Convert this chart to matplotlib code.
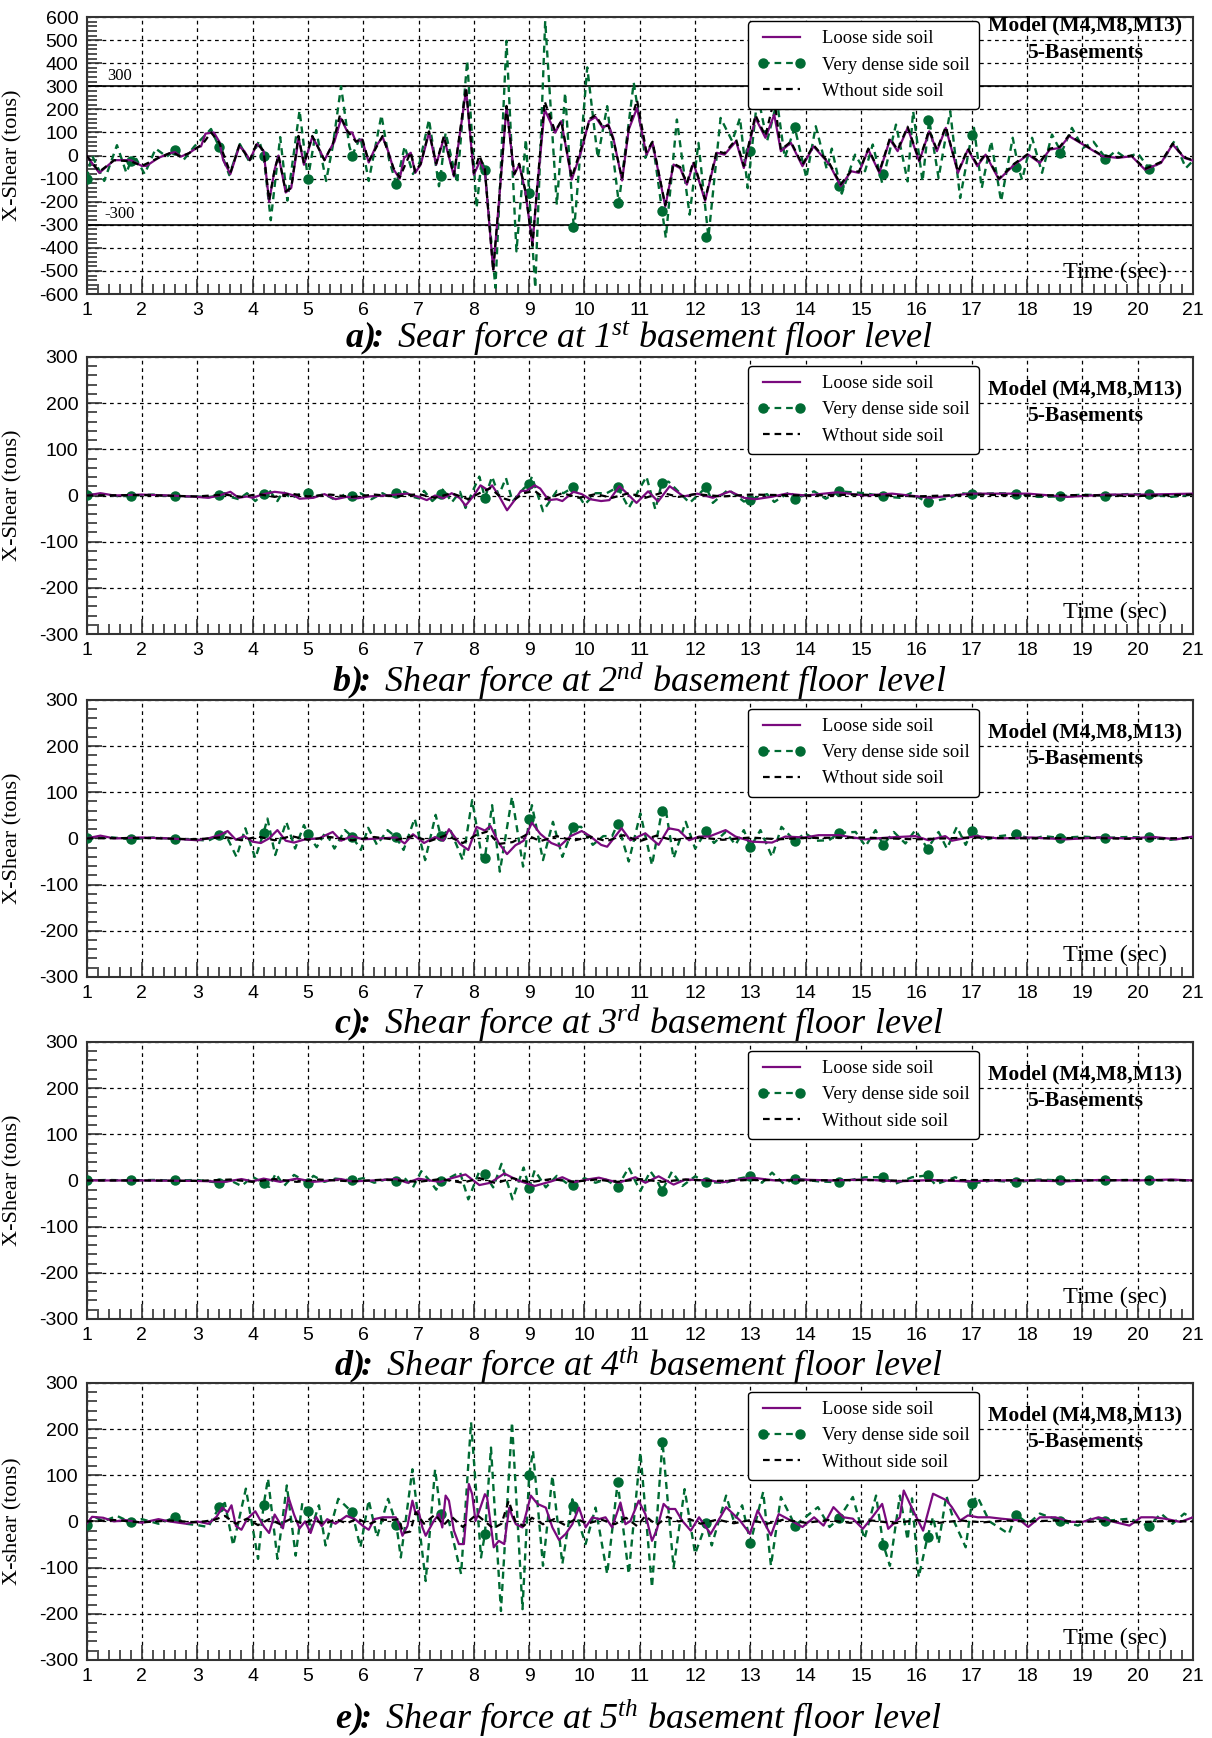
import numpy as np
import matplotlib
matplotlib.use('Agg')
import matplotlib.pyplot as plt
from matplotlib.lines import Line2D
from matplotlib.ticker import MultipleLocator

plt.rcParams['axes.unicode_minus'] = False
plt.rcParams['mathtext.fontset'] = 'custom'
plt.rcParams['mathtext.rm'] = 'Liberation Serif:italic'
plt.rcParams['mathtext.it'] = 'Liberation Serif:italic'
plt.rcParams['mathtext.bf'] = 'Liberation Serif:bold:italic'

PURPLE = '#7a0a7e'
GREEN = '#006b33'

# times of the circle markers on the "very dense" curve
mark_t = [1.0, 1.8, 2.6, 3.4, 4.2, 5.0, 5.8, 6.6, 7.4, 8.2, 9.0, 9.8, 10.6,
          11.4, 12.2, 13.0, 13.8, 14.6, 15.4, 16.2, 17.0, 17.8, 18.6, 19.4, 20.2]

# ---------------- a) 1st basement ----------------
a_loose = [(1.0, 0), (1.23, -75), (1.5, -20), (1.8, -20), (2.0, -45), (2.08, -45), (2.3, -10), (2.5, 10),
           (2.6, 15), (2.7, -5), (2.85, 10), (3.0, 35), (3.07, 40), (3.15, 95), (3.3, 100), (3.4, 60),
           (3.47, -20), (3.6, -80), (3.76, 40), (3.85, 20), (3.95, -20), (4.08, 50), (4.2, 20), (4.3, -200),
           (4.4, -60), (4.47, 0), (4.6, -160), (4.7, -140), (4.8, 20), (4.83, 80), (4.93, -40), (5.08, 80),
           (5.18, 40), (5.3, -20), (5.43, 40), (5.48, 60), (5.6, 160), (5.72, 100), (5.8, 100), (5.87, 60),
           (5.98, 70), (6.1, -30), (6.23, 40), (6.35, 80), (6.45, 20), (6.55, -60), (6.66, -100), (6.74, -10),
           (6.86, 12), (6.94, -75), (7.04, -39), (7.19, 99), (7.32, -39), (7.46, 77), (7.64, -90), (7.86, 284),
           (8.0, -83), (8.11, -25), (8.2, -68), (8.35, -495), (8.46, -184), (8.59, 210), (8.73, -83),
           (8.82, -39), (8.93, -155), (9.06, -387), (9.15, -126), (9.28, 200), (9.47, 99), (9.58, 149),
           (9.77, -104), (9.95, 26), (10.08, 149), (10.2, 167), (10.33, 120), (10.43, 135), (10.52, 77),
           (10.68, -108), (10.8, 113), (10.95, 206), (11.12, 4), (11.23, 55), (11.46, -220), (11.61, -39),
           (11.73, -55), (11.85, -126), (11.97, -32), (12.18, -196), (12.39, 12), (12.53, 4), (12.74, 62),
           (12.88, -54), (13.09, 163), (13.27, 77), (13.43, 177), (13.55, 19), (13.73, 55), (13.94, -46),
           (14.14, 40), (14.43, -39), (14.63, -133), (14.82, -68), (14.96, -75), (15.13, 26), (15.33, -75),
           (15.52, 69), (15.66, 19), (15.84, 120), (16.05, -25), (16.23, 105), (16.37, 19), (16.53, 120),
           (16.75, -75), (16.93, 26), (17.1, -46), (17.25, 4), (17.49, -104), (17.77, -39), (18.02, 4),
           (18.23, -32), (18.41, 26), (18.59, 33), (18.76, 84), (19.01, 48), (19.36, -3), (19.64, -10),
           (19.89, -3), (20.13, -61), (20.42, -32), (20.63, 48), (20.84, -10), (21.0, -22)]
a_without = [(1.0, 0), (1.23, -70), (1.5, -20), (1.8, -25), (2.0, -45), (2.3, -10), (2.55, 15), (2.7, -5),
             (2.85, 10), (3.1, 50), (3.25, 100), (3.4, 55), (3.6, -75), (3.76, 45), (3.95, -20), (4.08, 55),
             (4.2, 20), (4.3, -195), (4.4, -60), (4.47, 0), (4.6, -155), (4.7, -140), (4.83, 85), (4.93, -35),
             (5.08, 85), (5.3, -20), (5.45, 50), (5.58, 175), (5.72, 105), (5.87, 60), (5.98, 75), (6.1, -25),
             (6.35, 85), (6.55, -55), (6.66, -95), (6.86, 15), (6.94, -70), (7.04, -35), (7.19, 105),
             (7.32, -35), (7.46, 85), (7.64, -85), (7.86, 295), (8.0, -75), (8.1, 0), (8.2, -60), (8.35, -500),
             (8.46, -180), (8.59, 215), (8.73, -80), (8.82, -35), (8.93, -150), (9.06, -390), (9.15, -120),
             (9.28, 235), (9.47, 105), (9.58, 150), (9.77, -95), (9.95, 40), (10.1, 160), (10.2, 175),
             (10.33, 125), (10.43, 130), (10.52, 70), (10.68, -100), (10.8, 120), (10.95, 240), (11.12, 15),
             (11.23, 60), (11.46, -215), (11.61, -35), (11.73, -50), (11.85, -120), (11.97, -25), (12.18, -190),
             (12.39, 20), (12.53, 10), (12.74, 70), (12.88, -45), (13.09, 175), (13.27, 85), (13.43, 245),
             (13.55, 25), (13.73, 60), (13.94, -40), (14.14, 45), (14.43, -35), (14.63, -125), (14.82, -65),
             (14.96, -70), (15.13, 30), (15.33, -70), (15.52, 75), (15.66, 25), (15.84, 125), (16.05, -20),
             (16.23, 110), (16.37, 25), (16.53, 125), (16.75, -70), (16.93, 30), (17.1, -40), (17.25, 8),
             (17.49, -100), (17.77, -35), (18.02, 8), (18.23, -28), (18.41, 30), (18.59, 38), (18.76, 88),
             (19.01, 50), (19.36, 0), (19.64, -8), (19.89, 0), (20.13, -58), (20.42, -28), (20.63, 52),
             (20.84, -8), (21.0, -20)]
a_dense = [(1.0, -100), (1.1, 0), (1.32, -110), (1.55, 45), (1.72, -75), (1.8, -25), (1.9, -15), (2.05, -80),
           (2.25, 30), (2.45, -5), (2.6, 25), (2.75, -20), (2.95, 40), (3.25, 115), (3.4, 35), (3.58, -85),
           (3.77, 50), (3.95, -30), (4.12, 65), (4.2, 0), (4.33, -280), (4.5, 80), (4.63, -195), (4.85, 195),
           (5.0, -100), (5.15, 110), (5.33, -110), (5.45, 40), (5.6, 300), (5.75, 40), (5.8, 0), (5.95, 80),
           (6.1, -110), (6.33, 175), (6.47, -20), (6.6, -125), (6.75, 40), (6.9, -80), (7.02, -30), (7.19, 156),
           (7.37, -133), (7.4, -87), (7.49, 99), (7.7, -119), (7.88, 411), (8.05, -227), (8.14, -20),
           (8.2, -61), (8.39, -573), (8.59, 497), (8.77, -415), (8.94, 70), (9.0, -163), (9.11, -573),
           (9.29, 583), (9.5, -213), (9.65, 272), (9.81, -328), (10.05, 382), (10.24, -10), (10.41, 214),
           (10.62, -206), (10.89, 316), (11.1, -10), (11.23, 62), (11.47, -357), (11.67, 156), (11.9, -256),
           (12.06, 55), (12.24, -354), (12.46, 163), (12.67, 62), (12.81, 163), (12.95, -141), (13.13, 264),
           (13.3, 62), (13.48, 235), (13.62, -10), (13.8, 122), (14.01, -97), (14.18, 127), (14.38, -60),
           (14.47, 30), (14.65, -165), (14.89, 4), (15.07, -68), (15.21, 48), (15.38, -119), (15.63, 134),
           (15.84, -112), (15.94, 192), (16.11, -112), (16.23, 155), (16.4, -97), (16.61, 192), (16.79, -184),
           (17.0, 91), (17.04, 120), (17.18, -141), (17.35, 62), (17.53, -198), (17.74, 77), (17.84, -50),
           (17.91, -105), (18.09, 77), (18.27, -75), (18.45, 91), (18.62, 12), (18.81, 120), (19.01, 33),
           (19.2, 60), (19.43, -15), (19.6, 20), (19.78, -10), (20.0, 10), (20.21, -58), (20.45, -25),
           (20.66, 62), (20.87, -54), (21.0, -22)]
a_marks = [-100, -25, 25, 35, 0, -100, 0, -125, -87, -61, -163, -310, -206, -239, -354, 19, 122, -134,
           -80, 155, 91, -50, 12, -15, -58]

# ---------------- b) 2nd basement ----------------
b_loose = [(1.0, 0), (1.25, 5), (1.5, 0), (2.0, 2), (2.5, 0), (3.0, -3), (3.2, -5), (3.4, 0), (3.6, 8),
           (3.75, -5), (3.9, -2), (4.0, -5), (4.2, 3), (4.4, 8), (4.6, 5), (4.75, 0), (4.85, -7), (5.1, -5),
           (5.3, 3), (5.5, -8), (5.7, -3), (5.9, -6), (6.1, -2), (6.4, 0), (6.6, 2), (6.8, 4), (7.0, -3),
           (7.15, -10), (7.3, 0), (7.45, -6), (7.6, 5), (7.75, -6), (7.85, -22), (8.0, 0), (8.12, 22),
           (8.25, 12), (8.33, 22), (8.45, 0), (8.6, -32), (8.75, -8), (8.85, 10), (8.95, 10), (9.1, 22),
           (9.2, 15), (9.35, -10), (9.5, -8), (9.6, -12), (9.8, 8), (9.95, 3), (10.1, -8), (10.3, -12),
           (10.45, -10), (10.63, 20), (10.73, 9), (10.94, -16), (11.15, 9), (11.33, -13), (11.54, 20),
           (11.79, -2), (12.04, 4), (12.32, -5), (12.63, 9), (12.88, -5), (13.09, -8), (13.37, -3), (13.65, 4),
           (14.0, 0), (14.57, 7), (15.06, 0), (15.56, 4), (16.26, -5), (16.96, 4), (18.02, 4), (18.73, -3),
           (19.43, 2), (20.13, 2), (21.0, 4)]
b_without = [(1.0, 0), (2.0, 1), (3.0, -2), (3.5, 2), (3.8, -3), (4.1, 3), (4.4, -3), (4.7, 4), (5.0, -2),
             (5.4, 2), (5.8, -3), (6.2, 2), (6.6, -2), (7.0, 3), (7.3, -5), (7.6, 5), (7.9, -8), (8.1, 5),
             (8.3, 16), (8.5, -5), (8.7, -12), (8.9, 5), (9.1, 10), (9.3, -8), (9.6, 5), (9.9, -5), (10.2, 3),
             (10.5, -5), (10.8, 5), (11.1, -5), (11.4, 6), (11.7, -3), (12.0, 3), (12.5, -2), (13.0, 2),
             (14.0, 0), (15.0, 2), (16.0, -2), (17.0, 2), (18.0, 0), (19.0, 1), (20.0, -1), (21.0, 2)]
b_dense = [(1.0, 2), (1.3, 3), (1.6, -2), (1.8, 0), (2.2, 2), (2.6, -2), (3.0, -2), (3.2, -4), (3.4, 1),
           (3.5, 5), (3.6, -3), (3.75, -8), (3.9, 5), (4.05, -12), (4.2, 4), (4.28, 15), (4.45, -12),
           (4.55, 8), (4.7, -6), (4.85, 3), (5.0, 5), (5.1, -3), (5.3, 3), (5.5, -10), (5.7, 5), (5.8, -2),
           (5.95, 5), (6.15, -8), (6.35, 5), (6.5, -5), (6.6, 5), (6.75, 8), (6.9, -3), (7.0, -6), (7.1, 10),
           (7.25, -12), (7.4, 4), (7.45, 15), (7.6, -15), (7.75, 8), (7.85, -27), (8.0, 15), (8.1, 41),
           (8.2, -5), (8.33, 41), (8.45, 0), (8.58, 38), (8.7, -13), (8.9, 15), (9.0, 25), (9.05, 41),
           (9.25, -34), (9.5, 10), (9.62, 5), (9.8, 18), (10.0, -20), (10.2, 5), (10.4, 5), (10.6, 18),
           (10.8, -27), (11.12, 41), (11.28, -30), (11.4, 28), (11.52, 30), (11.9, -16), (12.2, 18),
           (12.32, -16), (12.6, 13), (12.88, -13), (13.0, -9), (13.3, 3), (13.43, -14), (13.73, 9), (13.8, -7),
           (14.15, 9), (14.36, -7), (14.6, 9), (15.07, 5), (15.4, -2), (15.7, -5), (15.9, 5), (16.2, -15),
           (16.61, -5), (16.8, 5), (17.0, 3), (17.46, 5), (17.8, 4), (18.2, -3), (18.6, -2), (19.0, 2),
           (19.4, 0), (19.8, 3), (20.2, 3), (20.6, -3), (21.0, 2)]
b_marks = [2, 0, -2, 1, 4, 5, -2, 5, 4, -5, 25, 18, 18, 28, 18, -9, -7, 9, -2, -15, 3, 4, -2, 0, 3]

# ---------------- c) 3rd basement ----------------
c_loose = [(1.0, 0), (1.25, 6), (1.5, 0), (2.0, 2), (2.5, 0), (3.0, -4), (3.2, 0), (3.4, 7), (3.55, 16),
           (3.7, -3), (3.85, 5), (4.0, -7), (4.15, -10), (4.3, 0), (4.45, 18), (4.6, -5), (4.75, -9),
           (4.95, -2), (5.2, 0), (5.45, 14), (5.6, -5), (5.8, 5), (6.0, -2), (6.3, 0), (6.6, 2), (6.75, -11),
           (6.9, 9), (7.1, -10), (7.3, 3), (7.45, -5), (7.55, 20), (7.75, -12), (7.9, -25), (8.05, 25),
           (8.2, 17), (8.3, 27), (8.45, -10), (8.6, -34), (8.75, -15), (8.9, -5), (9.05, 34), (9.2, 10),
           (9.4, -10), (9.55, -17), (9.75, 5), (9.95, 16), (10.1, 5), (10.3, -14), (10.41, -18), (10.67, 22),
           (10.83, -4), (11.1, 11), (11.34, -14), (11.52, 22), (11.7, 18), (11.89, -4), (12.07, 4),
           (12.25, 4), (12.55, 18), (12.73, 4), (13.03, -7), (13.39, -9), (13.63, 4), (13.98, 2), (14.23, 7),
           (14.6, 7), (15.07, -2), (15.5, 2), (15.98, 5), (16.22, -4), (16.52, 5), (16.64, -5), (17.07, 5),
           (17.49, 0), (18.09, 2), (18.7, -2), (19.3, 2), (19.8, 0), (20.3, 3), (20.7, -2), (21.0, 4)]
c_without = [(1.0, 0), (2.0, 1), (3.0, -2), (3.5, 3), (3.8, -4), (4.1, 4), (4.4, -4), (4.7, 5), (5.0, -3),
             (5.4, 3), (5.8, -4), (6.2, 3), (6.6, -3), (6.9, 5), (7.2, -6), (7.5, 7), (7.8, -10), (8.05, 8),
             (8.25, 15), (8.45, -12), (8.7, -8), (8.95, 8), (9.2, -6), (9.5, 5), (9.8, -5), (10.1, 4),
             (10.4, -6), (10.7, 7), (11.0, -6), (11.3, 6), (11.6, -4), (12.0, 3), (12.5, -3), (13.0, 2),
             (13.5, -2), (14.0, 1), (15.0, 2), (16.0, -2), (17.0, 2), (18.0, 0), (19.0, 1), (20.0, -1), (21.0, 1)]
c_dense = [(1.0, 0), (1.4, 3), (1.8, -2), (2.2, 2), (2.6, -1), (3.0, -3), (3.2, -5), (3.4, 7), (3.5, 12),
           (3.71, -40), (3.87, 22), (4.05, -43), (4.2, 12), (4.27, 43), (4.41, -36), (4.61, 36), (4.77, -22),
           (4.93, 29), (5.0, 9), (5.16, -19), (5.32, 14), (5.48, -22), (5.67, 18), (5.8, 4), (5.96, -25),
           (6.09, 23), (6.25, -14), (6.44, 18), (6.6, 2), (6.73, -25), (6.93, 43), (7.12, -47), (7.31, 51),
           (7.4, 5), (7.57, 20), (7.8, -47), (7.97, 83), (8.15, -45), (8.2, -42), (8.33, 72), (8.47, -72),
           (8.69, 90), (8.89, -61), (9.0, 41), (9.05, 72), (9.25, -47), (9.43, 36), (9.6, -40), (9.8, 25),
           (9.94, 25), (10.15, -14), (10.34, 5), (10.5, 5), (10.6, 32), (10.8, -50), (11.01, 54),
           (11.22, -58), (11.4, 60), (11.46, 69), (11.61, -43), (11.83, 36), (12.0, -22), (12.2, 16),
           (12.34, -10), (12.55, 14), (12.73, -14), (12.88, 18), (13.0, -19), (13.18, 18), (13.39, -40),
           (13.56, 25), (13.8, -5), (13.99, 11), (14.2, -5), (14.42, -4), (14.6, 12), (14.9, 14), (15.08, -17),
           (15.26, 18), (15.4, -14), (15.59, 14), (15.8, -11), (15.98, 18), (16.2, -22), (16.4, 14),
           (16.55, -22), (16.73, 25), (16.89, -14), (17.0, 16), (17.22, -4), (17.5, 5), (17.8, 9),
           (18.09, -2), (18.3, 5), (18.6, 1), (19.0, 4), (19.4, 1), (19.8, 3), (20.2, 2), (20.6, -3), (21.0, 3)]
c_marks = [0, -2, -1, 7, 12, 9, 4, 2, 5, -42, 41, 25, 32, 60, 16, -19, -5, 12, -14, -22, 16, 9, 1, 1, 2]

# ---------------- d) 4th basement ----------------
d_loose = [(1.0, 0), (2.0, 0), (3.0, -1), (3.5, -3), (3.8, 3), (4.0, -2), (4.2, 4), (4.5, -3), (4.8, 4),
           (5.1, -3), (5.4, 0), (5.6, 3), (5.8, -2), (6.2, 0), (6.6, 3), (6.8, -5), (7.0, 4), (7.2, 0),
           (7.4, -3), (7.6, 5), (7.85, 13), (8.1, -10), (8.3, -5), (8.55, 15), (8.8, 0), (9.1, -12),
           (9.4, -2), (9.6, 7), (9.8, -4), (10.1, 3), (10.26, 6), (10.62, -5), (10.92, 7), (11.1, -5),
           (11.34, 9), (11.61, -9), (11.83, 2), (12.25, 0), (12.49, -4), (12.79, 2), (13.03, 6), (13.45, 0),
           (13.87, 2), (14.47, 0), (15.07, 2), (15.67, -2), (16.28, 1), (16.88, -2), (17.48, 0), (18.08, 0),
           (18.69, -2), (19.29, 1), (20.0, 0), (20.6, 2), (21.0, 0)]
d_without = [(1.0, 0), (2.0, 0), (3.0, -1), (3.6, 2), (4.0, -3), (4.4, 3), (4.8, -3), (5.2, 2), (5.8, -2),
             (6.4, 2), (7.0, -3), (7.4, 3), (7.8, -5), (8.1, 5), (8.4, -6), (8.7, 5), (9.0, -4), (9.4, 3),
             (9.8, -3), (10.2, 2), (10.6, -3), (11.0, 3), (11.4, -3), (11.8, 2), (12.4, -1), (13.0, 1),
             (14.0, 0), (15.0, 1), (16.0, -1), (17.0, 1), (18.0, 0), (19.0, 0), (20.0, 1), (21.0, 0)]
d_dense = [(1.0, 0), (1.4, 1), (1.8, 0), (2.2, 1), (2.6, 0), (3.0, 1), (3.4, -5), (3.6, 0), (3.8, -12),
           (4.0, 8), (4.2, -6), (4.3, -14), (4.42, 15), (4.57, -12), (4.75, 12), (5.0, -5), (5.1, 10),
           (5.3, -3), (5.5, 4), (5.8, 0), (6.0, 5), (6.2, -5), (6.4, 2), (6.6, -2), (6.75, 5), (6.9, -15),
           (7.05, 20), (7.2, 0), (7.32, -20), (7.4, -2), (7.55, 5), (7.75, 18), (7.9, -41), (8.1, 20),
           (8.2, 13), (8.35, -15), (8.5, 36), (8.7, -41), (8.9, 28), (9.0, -17), (9.1, 22), (9.3, -15),
           (9.5, 10), (9.7, -8), (9.8, -9), (10.0, 5), (10.2, -5), (10.38, 2), (10.6, -14), (10.8, 28),
           (10.92, -2), (11.01, -23), (11.19, 20), (11.31, 0), (11.4, -23), (11.58, 19), (11.77, -12),
           (12.0, 9), (12.2, -4), (12.55, -5), (12.79, 4), (13.0, 9), (13.21, -5), (13.39, 17), (13.6, -7),
           (13.8, 4), (14.23, -2), (14.6, -4), (15.07, 7), (15.4, 7), (15.62, -7), (15.92, 7), (16.2, 11),
           (16.34, -9), (16.7, 7), (17.0, -7), (17.37, 0), (17.8, -4), (18.2, 2), (18.6, 0), (19.0, 1),
           (19.4, 0), (19.8, 1), (20.2, 0), (20.6, 1), (21.0, 0)]
d_marks = [0, 0, 0, -5, -6, -5, 0, -2, -2, 13, -17, -9, -14, -23, -4, 9, 4, -4, 7, 11, -7, -4, 0, 0, 0]

# ---------------- e) 5th basement ----------------
e_loose = [(1.0, -5), (1.1, 10), (1.3, 8), (1.5, 0), (1.7, 3), (2.0, -3), (2.3, 5), (2.5, 0), (2.8, -5),
           (3.0, 0), (3.2, -5), (3.35, 10), (3.45, 30), (3.55, 20), (3.62, 35), (3.7, -10), (3.8, -18),
           (3.9, 5), (4.05, 22), (4.2, -10), (4.3, -25), (4.4, 15), (4.5, -5), (4.55, -15), (4.65, 52),
           (4.75, 15), (4.85, -15), (4.95, 0), (5.05, -25), (5.15, 10), (5.25, -10), (5.35, 5), (5.5, -5),
           (5.7, 12), (5.85, 5), (6.0, -10), (6.1, -18), (6.2, 5), (6.35, 9), (6.59, 9), (6.65, -6),
           (6.71, -31), (6.8, -10), (6.89, 45), (6.95, 16), (7.0, 23), (7.07, -13), (7.13, -31), (7.28, 2),
           (7.37, 16), (7.43, -13), (7.49, 56), (7.55, 45), (7.64, -20), (7.73, -49), (7.82, -49), (7.91, 81),
           (7.97, 59), (8.03, 1), (8.09, 20), (8.2, 59), (8.24, 52), (8.36, -56), (8.45, -42), (8.55, -49),
           (8.64, 30), (8.7, 9), (8.76, -6), (8.88, -13), (9.03, 56), (9.15, 38), (9.3, 30), (9.42, -13),
           (9.54, -40), (9.66, -27), (9.78, -6), (9.9, 30), (10.02, -13), (10.14, 9), (10.26, 5), (10.38, 9),
           (10.5, -13), (10.65, 41), (10.74, -6), (10.83, 1), (10.98, 45), (11.04, 30), (11.1, 16),
           (11.22, -42), (11.31, -17), (11.43, 38), (11.52, 27), (11.64, 27), (11.77, 1), (11.92, -20),
           (12.07, 9), (12.28, -27), (12.56, 31), (12.81, 2), (12.99, -27), (13.13, 24), (13.37, -30),
           (13.51, 16), (13.73, 2), (13.94, -12), (14.15, 9), (14.32, -9), (14.5, 31), (14.68, 9), (14.85, 6),
           (15.03, -16), (15.2, 9), (15.38, 38), (15.49, -16), (15.7, 9), (15.77, 67), (15.91, 31),
           (16.12, -20), (16.3, 60), (16.54, 46), (16.64, 31), (16.79, 2), (16.93, 13), (17.11, 9),
           (17.32, 9), (17.53, 6), (17.88, 2), (18.02, -12), (18.23, 9), (18.51, 9), (18.79, -1), (19.0, -1),
           (19.29, 9), (19.57, -1), (19.85, -9), (20.06, 9), (20.27, 9), (20.49, 6), (20.77, -1), (21.0, 9)]
e_without = [(1.0, 0), (1.5, 3), (2.0, -2), (2.5, 2), (3.0, -2), (3.3, 3), (3.5, 12), (3.7, -5), (3.9, 6),
             (4.1, -8), (4.3, 5), (4.5, -6), (4.7, 6), (4.9, -5), (5.1, 4), (5.3, -6), (5.5, 5), (5.7, -4),
             (5.9, 6), (6.1, -6), (6.3, 4), (6.5, 3), (6.65, 5), (6.72, -25), (6.85, -22), (6.95, 20),
             (7.1, -5), (7.3, 15), (7.45, -8), (7.6, 10), (7.8, -12), (7.95, 5), (8.05, 15), (8.2, 0),
             (8.35, -15), (8.5, -5), (8.63, 45), (8.75, 0), (8.9, -10), (9.05, 8), (9.25, -6), (9.45, 5),
             (9.65, -8), (9.85, 6), (10.05, -5), (10.3, 4), (10.55, -6), (10.75, 8), (10.95, -10), (11.1, 12),
             (11.3, -8), (11.5, 10), (11.7, 0), (11.9, 5), (12.1, -5), (12.4, 4), (12.7, -4), (13.0, 3),
             (13.3, -5), (13.6, 4), (14.0, -3), (14.4, 3), (14.8, -3), (15.2, 2), (15.6, -4), (16.0, 3),
             (16.4, -3), (16.8, 2), (17.2, -2), (17.6, 2), (18.0, 0), (18.5, 2), (19.0, -1), (19.5, 1),
             (20.0, -2), (20.5, 1), (21.0, 0)]
e_dense = [(1.0, -7), (1.15, 10), (1.3, 0), (1.55, 12), (1.8, -2), (2.0, 5), (2.3, -5), (2.6, 9), (2.8, -5),
           (3.0, -8), (3.2, -12), (3.3, 10), (3.4, 31), (3.5, 40), (3.65, -52), (3.88, 71), (4.1, -81),
           (4.2, 35), (4.28, 93), (4.45, -81), (4.62, 78), (4.78, -74), (4.9, 40), (5.0, 22), (5.05, -20),
           (5.2, 35), (5.32, -52), (5.55, 49), (5.8, 20), (5.95, -56), (6.1, 46), (6.25, -34), (6.45, 49),
           (6.6, -7), (6.68, -78), (6.89, 113), (7.13, -129), (7.3, 113), (7.4, 17), (7.55, 0), (7.77, -114),
           (7.95, 215), (8.13, -78), (8.2, -27), (8.31, 160), (8.49, -194), (8.69, 215), (8.88, -190),
           (9.0, 100), (9.07, 153), (9.25, -96), (9.42, 99), (9.6, -92), (9.78, 48), (9.8, 34), (10.02, -49),
           (10.2, 30), (10.41, -114), (10.6, 85), (10.8, -114), (11.01, 150), (11.22, -143), (11.41, 173),
           (11.61, -100), (11.81, 70), (12.0, -70), (12.2, -4), (12.3, -52), (12.56, 56), (12.7, 0),
           (12.85, 35), (13.0, -46), (13.23, 64), (13.37, -96), (13.55, 53), (13.73, 10), (13.8, -9),
           (14.0, 10), (14.22, 31), (14.43, -12), (14.6, 7), (14.85, 53), (15.06, -38), (15.27, 56),
           (15.4, -50), (15.52, -96), (15.7, 56), (15.84, -40), (15.92, 50), (16.04, -121), (16.2, -34),
           (16.3, 10), (16.4, -48), (16.54, 56), (16.68, 0), (16.89, -56), (17.0, 41), (17.1, 54), (17.32, 0),
           (17.67, -27), (17.8, 15), (18.02, -5), (18.23, 17), (18.6, 1), (18.92, -9), (19.2, 9), (19.4, 1),
           (19.85, 6), (20.2, -10), (20.42, 17), (20.63, -5), (20.84, 17), (21.0, 6)]
e_marks = [-7, -2, 9, 31, 35, 22, 20, -7, 17, -27, 100, 34, 85, 173, -4, -46, -9, 7, -50, -34, 41, 15, 1, 1, -10]

panels = [
    dict(loose=a_loose, dense=a_dense, without=a_without, marks=a_marks, ylim=600,
         ylabel='X-Shear (tons)', nolabel='Wthout side soil',
         title=r'$\mathbf{a)}\!\!\mathbf{:}$ Sear force at 1$^{st}$ basement floor level'),
    dict(loose=b_loose, dense=b_dense, without=b_without, marks=b_marks, ylim=300,
         ylabel='X-Shear (tons)', nolabel='Wthout side soil',
         title=r'$\mathbf{b)}\!\!\mathbf{:}$ Shear force at 2$^{nd}$ basement floor level'),
    dict(loose=c_loose, dense=c_dense, without=c_without, marks=c_marks, ylim=300,
         ylabel='X-Shear (tons)', nolabel='Wthout side soil',
         title=r'$\mathbf{c)}\!\!\mathbf{:}$ Shear force at 3$^{rd}$ basement floor level'),
    dict(loose=d_loose, dense=d_dense, without=d_without, marks=d_marks, ylim=300,
         ylabel='X-Shear (tons)', nolabel='Without side soil',
         title=r'$\mathbf{d)}\!\!\mathbf{:}$ Shear force at 4$^{th}$ basement floor level'),
    dict(loose=e_loose, dense=e_dense, without=e_without, marks=e_marks, ylim=300,
         ylabel='X-shear (tons)', nolabel='Without side soil',
         title=r'$\mathbf{e)}\!\!\mathbf{:}$ Shear force at 5$^{th}$ basement floor level'),
]

bottoms = [0.8308, 0.6352, 0.4379, 0.2411, 0.0449]
title_y = [0.805, 0.608, 0.4117, 0.2146, 0.0115]

fig = plt.figure(figsize=(12.12, 17.38), dpi=100)

for i, p in enumerate(panels):
    ax = fig.add_axes([0.0714, bottoms[i], 0.913, 0.1594])
    lim = p['ylim']

    t, v = zip(*p['dense'])
    ax.plot(t, v, color=GREEN, lw=1.7, ls=(0, (3, 2.2)), zorder=3)
    ax.plot(mark_t, p['marks'], 'o', color=GREEN, ms=6.5, zorder=4)
    t, v = zip(*p['loose'])
    ax.plot(t, v, color=PURPLE, lw=1.6, zorder=5)
    t, v = zip(*p['without'])
    ax.plot(t, v, color='black', lw=1.6, ls=(0, (3, 2.2)), zorder=6)

    if i == 0:
        ax.axhline(300, color='black', lw=1.2, zorder=2)
        ax.axhline(-300, color='black', lw=1.2, zorder=2)
        ax.text(1.6, 345, '300', family='Liberation Serif', fontsize=12, ha='center', va='center')
        ax.text(1.6, -255, '-300', family='Liberation Serif', fontsize=12, ha='center', va='center')

    ax.set_xlim(1, 21)
    ax.set_ylim(-lim, lim)
    ax.xaxis.set_major_locator(MultipleLocator(1))
    ax.xaxis.set_minor_locator(MultipleLocator(0.2))
    ax.yaxis.set_major_locator(MultipleLocator(100))
    ax.yaxis.set_minor_locator(MultipleLocator(20))
    ax.tick_params(which='both', direction='in', top=False, right=False, color='#333333', width=1.2)
    ax.tick_params(which='major', length=11, labelsize=14, pad=6)
    ax.tick_params(which='minor', length=7)
    for lab in ax.get_xticklabels() + ax.get_yticklabels():
        lab.set_family('Liberation Sans')
    for s in ax.spines.values():
        s.set_linewidth(1.5)
        s.set_color('#333333')

    ax.grid(True, which='major', color='black', ls=(0, (3, 3)), lw=0.9, zorder=1)
    ax.set_ylabel(p['ylabel'], family='Liberation Serif', fontsize=16)
    ax.yaxis.set_label_coords(-0.058, 0.5)

    handles = [Line2D([], [], color=PURPLE, lw=1.6),
               Line2D([], [], color=GREEN, lw=1.6, ls=(0, (3, 2.2)), marker='o', ms=6.5),
               Line2D([], [], color='black', lw=1.6, ls=(0, (3, 2.2)))]
    labels = ['Loose side soil', 'Very dense side soil', p['nolabel']]
    top = 0.985 if i == 0 else 0.968
    leg = ax.legend(handles, labels, loc='upper left', bbox_to_anchor=(0.598, top),
                    borderaxespad=0, prop={'family': 'Liberation Serif', 'size': 13.3},
                    fancybox=True, framealpha=1, edgecolor='black', handlelength=2.6,
                    handletextpad=0.9, labelspacing=0.5, borderpad=0.5, numpoints=2)
    leg.get_frame().set_linewidth(1.0)
    leg.set_zorder(10)

    y1, y2 = (0.968, 0.869) if i == 0 else (0.881, 0.787)
    ax.text(0.902, y1, 'Model (M4,M8,M13)', transform=ax.transAxes, ha='center', va='center',
            family='Liberation Serif', weight='bold', fontsize=15.6, zorder=11)
    ax.text(0.902, y2, '5-Basements', transform=ax.transAxes, ha='center', va='center',
            family='Liberation Serif', weight='bold', fontsize=15.6, zorder=11)
    ax.text(0.929, 0.078, 'Time (sec)', transform=ax.transAxes, ha='center', va='center',
            family='Liberation Serif', fontsize=17.5, zorder=11)

    fig.text(0.527, title_y[i], p['title'], ha='center', va='center', family='Liberation Serif',
             style='italic', fontsize=26)

fig.savefig('out.png', dpi=100)
